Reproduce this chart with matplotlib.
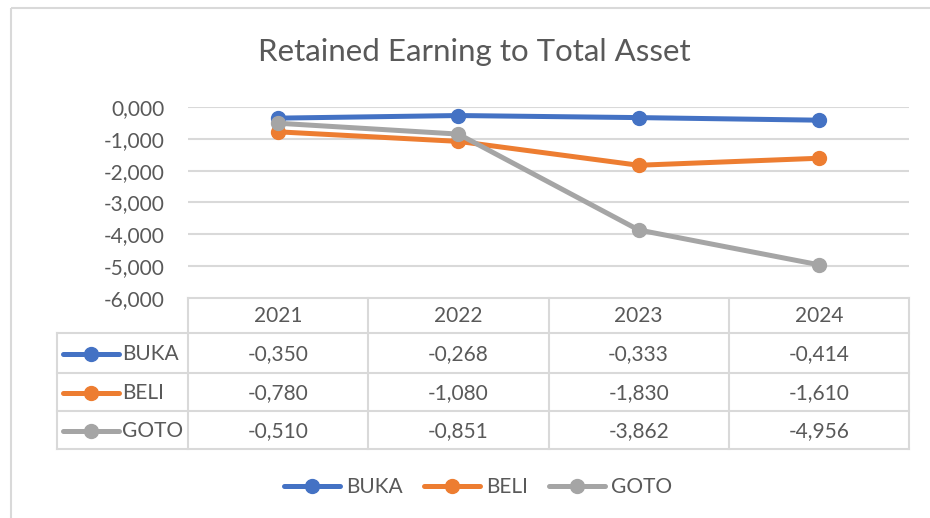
import numpy as np
import matplotlib
matplotlib.use("Agg")
import matplotlib.pyplot as plt
from matplotlib.lines import Line2D

years = ["2021", "2022", "2023", "2024"]
series = ["BUKA", "BELI", "GOTO"]
buka = [-0.350, -0.268, -0.333, -0.414]
beli = [-0.780, -1.080, -1.830, -1.610]
goto = [-0.510, -0.851, -3.862, -4.956]
yticks = [0, -1, -2, -3, -4, -5, -6]

colors = ["#4472C4", "#ED7D31", "#A5A5A5"]
values = [buka, beli, goto]
grid_c = "#D9D9D9"
text_c = "#595959"
fs = 15

def fmt(v):
    s = "{:.3f}".format(abs(v) if v == 0 else v)
    return s.replace(".", ",")

plt.rcParams["font.family"] = ["Lato", "DejaVu Sans"]

W, H = 930, 518
fig = plt.figure(figsize=(W / 100, H / 100), dpi=100)

# overlay in pixel coordinates for the table and chart border
ov = fig.add_axes([0, 0, 1, 1])
ov.set_xlim(0, W)
ov.set_ylim(H, 0)
ov.axis("off")

# plot area (pixels)
x0, x1, y0, y1 = 188, 909, 107, 298
ax = fig.add_axes([x0 / W, 1 - y1 / H, (x1 - x0) / W, (y1 - y0) / H])
ax.patch.set_alpha(0)
x = np.arange(len(years))
for vals, c in zip(values, colors):
    ax.plot(x, vals, color=c, lw=3.6, marker="o", ms=10, clip_on=False,
            solid_capstyle="round", zorder=3)
ax.set_xlim(-0.5, len(years) - 0.5)
ax.set_ylim(-6, 0)
ax.set_yticks(yticks)
ax.set_yticklabels([fmt(v) for v in yticks], color=text_c, fontsize=fs)
ax.tick_params(axis="y", length=0, pad=16.5)
ax.set_xticks([])
for s in ax.spines.values():
    s.set_visible(False)
for v in yticks[:-1]:
    ax.axhline(v, color=grid_c, lw=1.5, zorder=1)

fig.text(474 / W, 1 - 52 / H, "Retained Earning to Total Asset",
         ha="center", va="center", fontsize=22.5, color=text_c)

# chart border
ov.plot([11, 11], [8, H], color=grid_c, lw=1.5, solid_capstyle="butt")
ov.plot([11, W], [8, 8], color=grid_c, lw=1.5, solid_capstyle="butt")

# data table
lab_x = 57
row_y = [298, 333, 373, 411, 449]
colw = (x1 - x0) / len(years)
col_x = [x0 + colw * k for k in range(len(years) + 1)]
ov.plot([x0, x1], [row_y[0], row_y[0]], color=grid_c, lw=1.5)
for yy in row_y[1:]:
    ov.plot([lab_x, x1], [yy, yy], color=grid_c, lw=1.5)
ov.plot([lab_x, lab_x], [row_y[1], row_y[-1]], color=grid_c, lw=1.5)
for xx in col_x:
    ov.plot([xx, xx], [row_y[0], row_y[-1]], color=grid_c, lw=1.5)

for k, yr in enumerate(years):
    ov.text((col_x[k] + col_x[k + 1]) / 2, (row_y[0] + row_y[1]) / 2 + 1, yr,
            ha="center", va="center", fontsize=fs, color=text_c)
for r, (name, vals, c) in enumerate(zip(series, values, colors)):
    yc = (row_y[r + 1] + row_y[r + 2]) / 2 + 1
    ov.plot([63, 119], [yc, yc], color=c, lw=3.6, solid_capstyle="round")
    ov.plot([91], [yc], color=c, marker="o", ms=10)
    ov.text(122, yc, name, ha="left", va="center", fontsize=fs, color=text_c)
    for k, v in enumerate(vals):
        ov.text((col_x[k] + col_x[k + 1]) / 2, yc, fmt(v),
                ha="center", va="center", fontsize=fs, color=text_c)

# legend
handles = [Line2D([], [], color=c, lw=3.6, marker="o", ms=10,
                  solid_capstyle="round") for c in colors]
leg = fig.legend(handles, series, loc="center", ncol=3,
                 bbox_to_anchor=(478 / W, 1 - 487 / H), frameon=False,
                 fontsize=fs, handlelength=2.7, handletextpad=0.3,
                 columnspacing=1.0, borderaxespad=0)
for t in leg.get_texts():
    t.set_color(text_c)

fig.savefig("out.png", dpi=100)
